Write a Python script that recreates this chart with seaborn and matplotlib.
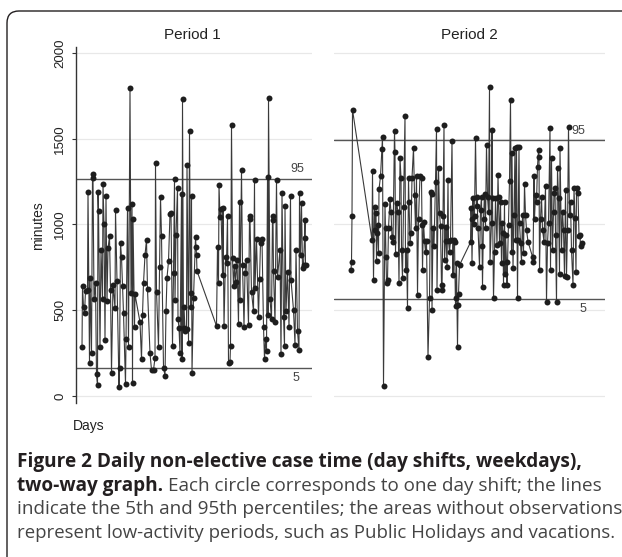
import matplotlib
matplotlib.use("Agg")
import matplotlib.pyplot as plt
import seaborn as sns
import pandas as pd
from matplotlib.patches import FancyBboxPatch
from matplotlib.transforms import IdentityTransform

# ---------------- data ----------------
days1 = [2, 3, 5, 7, 9, 13, 14, 17, 18, 21,
         23, 24, 26, 29, 31, 33, 34, 35, 38, 40,
         43, 44, 46, 48, 50, 52, 54, 57, 59, 61,
         64, 68, 69, 72, 76, 77, 79, 81, 83, 85,
         89, 90, 93, 95, 98, 100, 102, 103, 104, 107,
         108, 118, 121, 123, 125, 128, 131, 133, 138, 141,
         145, 148, 149, 151, 155, 157, 159, 161, 165, 168,
         170, 172, 175, 178, 180, 183, 185, 187, 188, 190,
         193, 194, 196, 198, 201, 202, 203, 205, 206, 208,
         211, 212, 215, 217, 219, 220, 221, 222, 225, 229,
         230, 231, 232, 271, 273, 275, 276, 278, 280, 283,
         284, 286, 289, 291, 293, 295, 298, 299, 301, 303,
         305, 307, 309, 312, 315, 317, 318, 321, 323, 326,
         328, 331, 335, 337, 338, 341, 345, 347, 348, 351,
         355, 357, 359, 362, 365, 367, 369, 371, 373, 374,
         375, 378, 381, 383, 384, 385, 388, 391, 393, 398,
         400, 402, 405, 407, 408, 410, 413, 416, 419, 420,
         425, 428, 430, 433, 436, 437, 439, 441, 443, 445,
         447, 448, 449]
minutes1 = [284, 642, 521, 482, 610, 618, 1190, 194, 690, 249,
            1295, 1270, 564, 660, 126, 64, 1192, 1080, 286, 850,
            568, 1237, 1000, 327, 1167, 553, 860, 930, 620, 136,
            650, 513, 1085, 672, 54, 165, 892, 810, 640, 484,
            68, 330, 1097, 288, 1793, 600, 1120, 78, 1030, 404,
            593, 430, 214, 473, 657, 823, 910, 622, 249, 152,
            152, 222, 1359, 608, 288, 750, 1161, 933, 165, 119,
            493, 690, 785, 1063, 1066, 294, 716, 1266, 560, 939,
            1215, 449, 398, 253, 1178, 214, 1731, 398, 520, 380,
            390, 1347, 307, 1544, 600, 521, 1169, 136, 570, 926,
            871, 823, 729, 408, 871, 657, 1231, 1042, 1090, 706,
            1096, 408, 810, 774, 1050, 194, 199, 294, 1581, 803,
            642, 760, 667, 790, 418, 1130, 560, 1318, 764, 404,
            720, 793, 412, 1050, 1031, 608, 493, 1258, 629, 914,
            459, 680, 892, 914, 404, 214, 331, 263, 1278, 473,
            1738, 564, 449, 1050, 1027, 729, 429, 1258, 693, 851,
            243, 1182, 463, 294, 1108, 493, 725, 404, 1165, 676,
            502, 298, 851, 377, 267, 1186, 821, 1124, 745, 764,
            920, 1027, 764]

days2 = [4, 5, 6, 7, 46, 47, 49, 51, 52, 54,
         55, 56, 57, 59, 60, 63, 66, 67, 69, 72,
         73, 74, 75, 77, 79, 82, 84, 86, 88, 91,
         92, 93, 95, 98, 100, 102, 104, 105, 107, 109,
         112, 113, 115, 117, 119, 120, 122, 124, 126, 129,
         131, 133, 135, 137, 139, 142, 145, 146, 147, 149,
         151, 153, 155, 158, 161, 163, 165, 166, 168, 170,
         173, 175, 176, 179, 181, 183, 185, 186, 188, 190,
         191, 193, 194, 196, 198, 199, 201, 203, 206, 208,
         209, 211, 213, 214, 215, 217, 218, 219, 221, 243,
         244, 245, 246, 248, 249, 251, 253, 255, 256, 258,
         261, 263, 265, 266, 267, 269, 271, 273, 275, 277,
         279, 281, 282, 285, 286, 287, 289, 291, 293, 296,
         298, 299, 301, 303, 305, 306, 308, 309, 311, 312,
         313, 315, 316, 319, 321, 323, 325, 326, 328, 330,
         332, 333, 335, 337, 338, 340, 341, 343, 345, 347,
         349, 351, 353, 355, 358, 367, 368, 370, 371, 373,
         375, 377, 379, 380, 381, 383, 385, 387, 390, 393,
         395, 397, 399, 402, 403, 405, 407, 409, 410, 412,
         413, 415, 417, 419, 421, 422, 425, 427, 429, 431,
         433, 435, 437, 439, 441, 443, 445, 448, 450, 452,
         454, 455, 458, 460, 462, 463, 465]
minutes2 = [735, 780, 1050, 1669, 910, 1309, 676, 1104, 968, 1066,
            785, 949, 997, 836, 1206, 1280, 1443, 1509, 60, 1120,
            980, 813, 657, 677, 980, 1149, 1075, 925, 900, 1546,
            1424, 828, 1128, 1075, 657, 1389, 1272, 852, 686, 1104,
            1634, 735, 850, 514, 1270, 1134, 894, 949, 1272, 1445,
            1173, 980, 1280, 588, 1030, 1283, 1270, 997, 735, 1017,
            905, 840, 905, 229, 570, 1192, 1180, 500, 980, 873,
            1250, 1558, 618, 1328, 1066, 990, 647, 618, 1052, 1581,
            794, 905, 986, 750, 1259, 905, 840, 910, 1488, 704,
            910, 900, 522, 570, 773, 286, 532, 594, 763, 896,
            1094, 1030, 777, 1153, 1000, 1050, 1504, 1110, 1163, 980,
            754, 1085, 1163, 873, 638, 1034, 1180, 980, 1465, 1163,
            1075, 1801, 783, 1010, 1553, 1153, 570, 840, 1153, 882,
            1288, 1163, 890, 1134, 777, 1010, 949, 647, 1134, 713,
            940, 783, 647, 997, 1255, 1727, 840, 1415, 744, 1057,
            1444, 910, 1453, 570, 910, 1453, 1010, 890, 779, 1057,
            832, 1236, 1057, 970, 900, 812, 783, 1280, 1034, 1173,
            1134, 1338, 1435, 1396, 735, 1030, 1163, 970, 900, 1227,
            550, 890, 1010, 1563, 735, 1385, 850, 1075, 1182, 1211,
            940, 547, 1328, 1153, 710, 1448, 852, 1075, 970, 700,
            1200, 696, 970, 1571, 1057, 1134, 852, 647, 1211, 1040,
            724, 1211, 1182, 933, 940, 873, 890]

periods = ["Period 1", "Period 2"]
p5 = [163, 568]
p95 = [1266, 1494]
yticks = [0, 500, 1000, 1500, 2000]

caption_bold1 = "Figure 2 Daily non-elective case time (day shifts, weekdays),"
caption_bold2 = "two-way graph."
caption_lines = ["Each circle corresponds to one day shift; the lines",
                 "indicate the 5th and 95th percentiles; the areas without observations",
                 "represent low-activity periods, such as Public Holidays and vacations."]

# ---------------- figure ----------------
sns.set_theme(style="white")
plt.rcParams["font.family"] = ["Liberation Sans", "DejaVu Sans"]

W, H = 622, 557
fig = plt.figure(figsize=(W / 100, H / 100), dpi=100)
fig.patch.set_facecolor("white")

def px_axes(x0, y0, x1, y1):
    return fig.add_axes([x0 / W, 1 - y1 / H, (x1 - x0) / W, (y1 - y0) / H])

ax1 = px_axes(76, 47, 312, 403)
ax2 = px_axes(334, 47, 605, 403)

data = [(days1, minutes1), (days2, minutes2)]
xlims = [(-10, 462), (-30, 512)]
line_col = "#3a3a3a"
mark_col = "#1e1e1e"

for i, ax in enumerate([ax1, ax2]):
    d, m = data[i]
    assert len(d) == len(m)
    df = pd.DataFrame({"day": d, "minutes": m})
    for yt in yticks:
        ax.axhline(yt, color="#e8e8e8", lw=0.9, zorder=0)
    ax.axhline(p95[i], color="#555555", lw=1.0, zorder=1)
    ax.axhline(p5[i], color="#555555", lw=1.0, zorder=1)
    sns.lineplot(data=df, x="day", y="minutes", ax=ax, sort=False,
                 estimator=None, color=line_col, lw=0.8,
                 marker="o", markersize=4.3, markerfacecolor=mark_col,
                 markeredgecolor=mark_col, markeredgewidth=0, zorder=3)
    ax.set_xlim(*xlims[i])
    ax.set_ylim(-41, 2035)
    ax.set_xlabel("")
    ax.set_ylabel("")
    ax.set_xticks([])
    for s in ["top", "right", "bottom"]:
        ax.spines[s].set_visible(False)
    ax.set_facecolor("none")

# left axis
ax1.spines["left"].set_color("#333333")
ax1.spines["left"].set_linewidth(1.0)
ax1.set_yticks(yticks)
ax1.set_yticklabels([str(v) for v in yticks], rotation=90, va="center",
                    fontsize=9.5, color="#222222")
ax1.tick_params(axis="y", length=3, width=0.8, color="#333333", pad=4, left=True)
ax2.spines["left"].set_visible(False)
ax2.set_yticks([])

# percentile labels
ax1.text(0.936, p95[0] + 20, "95", transform=ax1.get_yaxis_transform(),
         ha="center", va="bottom", fontsize=9, color="#444444")
ax1.text(0.932, p5[0] - 25, "5", transform=ax1.get_yaxis_transform(),
         ha="center", va="top", fontsize=9, color="#444444")
ax2.text(0.90, p95[1] + 15, "95", transform=ax2.get_yaxis_transform(),
         ha="center", va="bottom", fontsize=9, color="#444444")
ax2.text(0.919, p5[1] - 25, "5", transform=ax2.get_yaxis_transform(),
         ha="center", va="top", fontsize=9, color="#444444")

def ftext(x, y, s, **kw):
    return fig.text(x / W, 1 - y / H, s, **kw)

ftext(192, 35, periods[0], ha="center", va="center", fontsize=11, color="#222222")
ftext(469, 35, periods[1], ha="center", va="center", fontsize=11, color="#222222")
ftext(38, 226, "minutes", ha="center", va="center", rotation=90, fontsize=10, color="#222222")
ftext(89, 426, "Days", ha="center", va="center", fontsize=10, color="#222222")

# frame
frame = FancyBboxPatch((7, -30), 700, H - 11 + 30,
                       boxstyle="round,pad=0,rounding_size=12",
                       transform=IdentityTransform(), fill=False,
                       edgecolor="#231f20", lw=1.0)
fig.add_artist(frame)

# caption, fitted to the reference line widths
cap_font = ["Open Sans", "DejaVu Sans"]
bold_col = "#231f20"
reg_col = "#444444"
renderer = fig.canvas.get_renderer()

def fit_text(x, y, s, right, weight="normal", color=reg_col, base=12.0):
    t = ftext(x, y, s, ha="left", va="baseline", fontsize=base,
              fontweight=weight, color=color, family=cap_font)
    bb = t.get_window_extent(renderer=renderer)
    t.set_fontsize(base * (right - x) / bb.width)
    return t

L = 17
t1 = fit_text(L, 467, caption_bold1, 582, weight="bold", color=bold_col)
bsize = t1.get_fontsize()
t2 = ftext(L, 491, caption_bold2, ha="left", va="baseline", fontsize=bsize,
           fontweight="bold", color=bold_col, family=cap_font)
bb2 = t2.get_window_extent(renderer=renderer)
fit_text(bb2.x1 + 5, 491, caption_lines[0], 598)
fit_text(L, 514, caption_lines[1], 617)
fit_text(L, 538, caption_lines[2], 612)

fig.savefig("out.png", dpi=100)
